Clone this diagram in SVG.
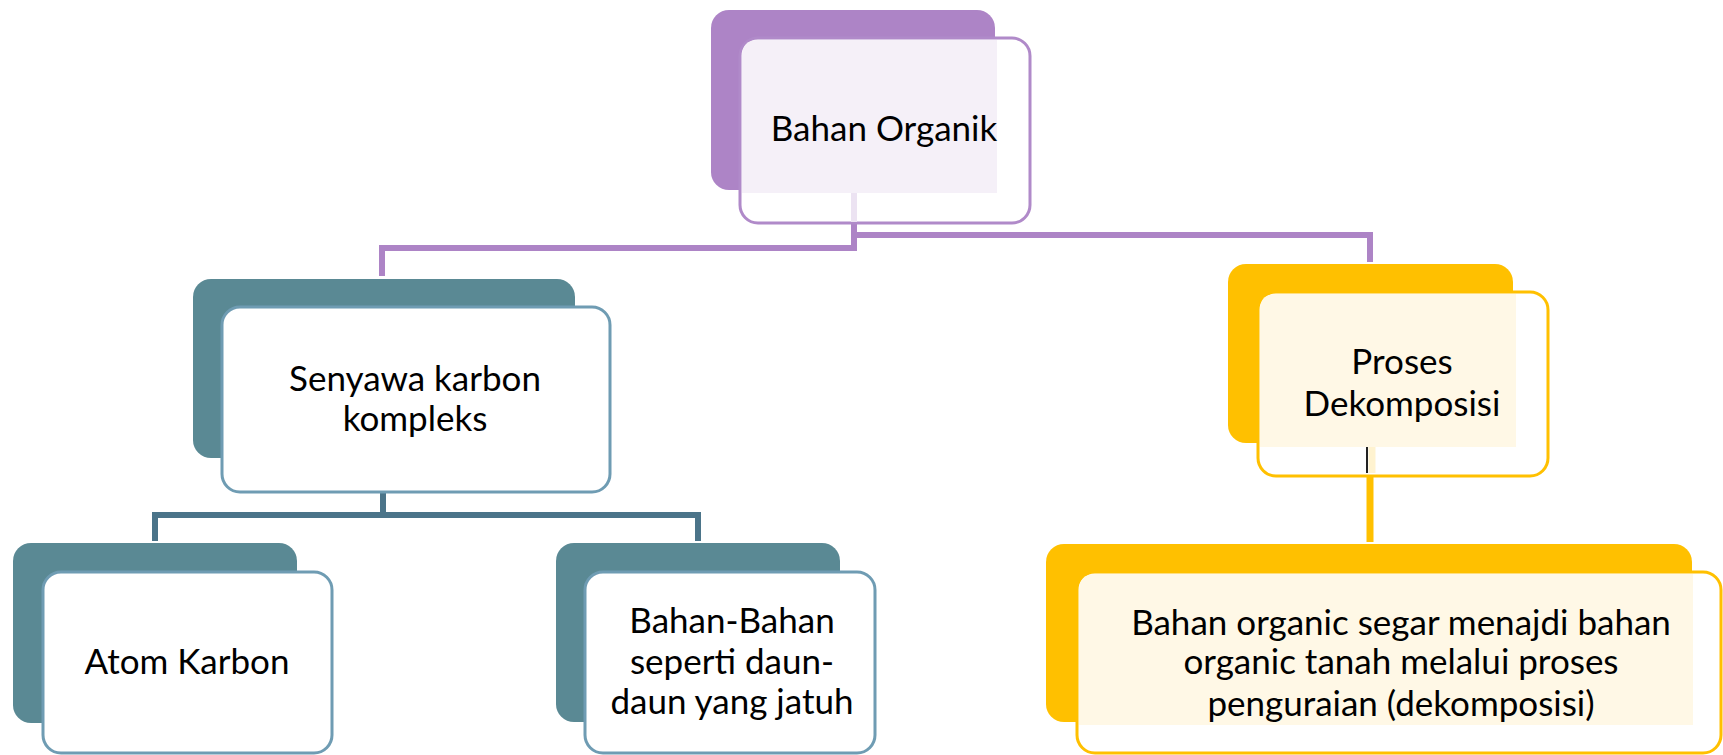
<svg xmlns="http://www.w3.org/2000/svg" width="1723" height="755" viewBox="0 0 1723 755">
<style>
.t{font-family:Lato,"Open Sans","Liberation Sans",sans-serif;font-size:35px;fill:#000;text-anchor:middle}
.pb{fill:#ad84c6}
.pf{fill:#fff;stroke:#b08ac9;stroke-width:3}
.tb{fill:#5a8994}
.tf{fill:#fff;stroke:#6f9cb3;stroke-width:3}
.ob{fill:#ffc000}
.of{fill:#fff;stroke:#ffc000;stroke-width:3}
.pc{fill:none;stroke:#ad84c6;stroke-width:6}
.tc{fill:none;stroke:#4b7489;stroke-width:6}
.oc{fill:none;stroke:#ffc000;stroke-width:7}
</style>
<g id="connectors">
<path class="pc" d="M854,223 V248 H382 V276"/>
<path class="pc" d="M857,235 H1370 V262"/>
<path class="tc" d="M383,492 V515 H155 V541"/>
<path class="tc" d="M383,515 H698 V541"/>
<path class="oc" d="M1370,474 V542"/>
</g>
<g id="bahan-organik">
<rect class="pb" x="711" y="10" width="284" height="180" rx="18"/>
<rect class="pf" x="740" y="38" width="290" height="185" rx="18"/>
<path d="M758,40 H997 V193 H742 V56 Q742,40 758,40 Z" fill="#f5f0f8"/>
<line x1="854" y1="193" x2="854" y2="222" stroke="#ece3f2" stroke-width="6"/>
<text class="t" x="884" y="141">Bahan Organik</text>
</g>
<g id="senyawa">
<rect class="tb" x="193" y="279" width="382" height="179" rx="18"/>
<rect class="tf" x="222" y="307" width="388" height="185" rx="18"/>
<text class="t" x="415" y="391">Senyawa karbon</text>
<text class="t" x="415" y="431">kompleks</text>
</g>
<g id="atom-karbon">
<rect class="tb" x="13" y="543" width="284" height="180" rx="18"/>
<rect class="tf" x="43" y="572" width="289" height="181" rx="18"/>
<text class="t" x="187" y="674">Atom Karbon</text>
</g>
<g id="bahan-bahan">
<rect class="tb" x="556" y="543" width="284" height="179" rx="18"/>
<rect class="tf" x="585" y="572" width="290" height="181" rx="18"/>
<text class="t" x="732" y="633">Bahan-Bahan</text>
<text class="t" x="732" y="674">seperti daun-</text>
<text class="t" x="732" y="714">daun yang jatuh</text>
</g>
<g id="proses">
<rect class="ob" x="1228" y="264" width="285" height="179" rx="18"/>
<rect class="of" x="1258" y="292" width="290" height="184" rx="18"/>
<path d="M1276,294 H1516 V447 H1260 V310 Q1260,294 1276,294 Z" fill="#fff8e6"/>
<line x1="1367" y1="447" x2="1367" y2="473" stroke="#222" stroke-width="2"/>
<line x1="1372" y1="447" x2="1372" y2="473" stroke="#fff3d0" stroke-width="7"/>
<text class="t" x="1402" y="374">Proses</text>
<text class="t" x="1402" y="416">Dekomposisi</text>
</g>
<g id="bahan-organic-segar">
<rect class="ob" x="1046" y="544" width="646" height="178" rx="18"/>
<rect class="of" x="1077" y="572" width="644" height="181" rx="18"/>
<path d="M1096,574 H1693 V725 H1079 V590 Q1079,574 1096,574 Z" fill="#fff8e6"/>
<text class="t" x="1401" y="635">Bahan organic segar menajdi bahan</text>
<text class="t" x="1401" y="674">organic tanah melalui proses</text>
<text class="t" x="1401" y="716">penguraian (dekomposisi)</text>
</g>
</svg>
